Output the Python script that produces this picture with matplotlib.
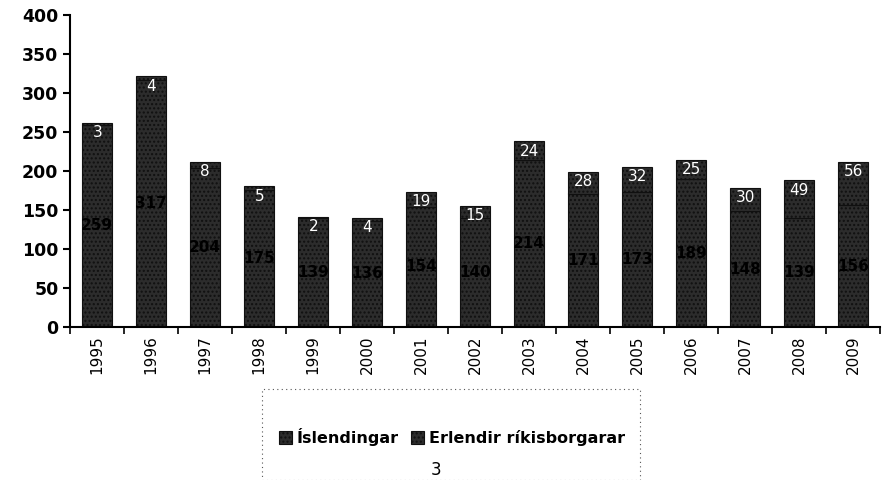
import matplotlib.pyplot as plt
import matplotlib.patches as mpatches
import numpy as np

years = ['1995', '1996', '1997', '1998', '1999', '2000', '2001', '2002',
         '2003', '2004', '2005', '2006', '2007', '2008', '2009']
erlendir = [3, 4, 8, 5, 2, 4, 19, 15, 24, 28, 32, 25, 30, 49, 56]
islendingar = [259, 317, 204, 175, 139, 136, 154, 140, 214, 171, 173, 189, 148, 139, 156]

x = np.arange(len(years))
isl = np.array(islendingar)
erl = np.array(erlendir)

fig = plt.figure(figsize=(8.89, 4.8), dpi=100)
ax = fig.add_axes([0.079, 0.319, 0.911, 0.65])

w = 0.55
b1 = ax.bar(x, isl, w, color='#2c2c2c', hatch='....', edgecolor='#101010', linewidth=0.8,
            label='Íslendingar')
b2 = ax.bar(x, erl, w, bottom=isl, color='#2c2c2c', hatch='....', edgecolor='#101010',
            linewidth=0.8, label='Erlendir ríkisborgarar')

for xi, v in zip(x, isl):
    ax.text(xi, v / 2, str(v), ha='center', va='center', fontsize=11,
            fontweight='bold', color='black')
for xi, v, b in zip(x, erl, isl):
    ax.text(xi, b + v - 3, str(v), ha='center', va='top', fontsize=11, color='white')

ax.set_ylim(0, 400)
ax.set_xlim(-0.5, len(years) - 0.5)
ax.set_yticks(range(0, 401, 50))
ax.tick_params(axis='y', labelsize=12.5, direction='out', length=5, width=1.5)
for lab in ax.get_yticklabels():
    lab.set_fontweight('bold')
ax.set_xticks(x)
ax.set_xticklabels(years, rotation=90, fontsize=11)
ax.tick_params(axis='x', length=0, pad=6)
ax.set_xticks(np.arange(-0.5, len(years), 1), minor=True)
ax.tick_params(axis='x', which='minor', direction='out', length=5, width=1.2)

for s in ['top', 'right']:
    ax.spines[s].set_visible(False)
ax.spines['left'].set_linewidth(1.5)
ax.spines['bottom'].set_linewidth(1.5)

# dotted frame around the legend area
box = mpatches.Rectangle((262 / 889, 0.0), (640 - 262) / 889, 1 - 389 / 480,
                         transform=fig.transFigure, fill=False, linestyle=(0, (1, 3)),
                         edgecolor='#555555', linewidth=0.8)
fig.patches.append(box)

fig.legend(handles=[b1, b2], loc='center', bbox_to_anchor=(452 / 889, 1 - 437 / 480),
           ncol=2, frameon=False, handlelength=0.8, handleheight=0.8, handletextpad=0.3,
           columnspacing=0.8, prop={'weight': 'bold', 'size': 11.5})

fig.text(436 / 889, 1 - 470 / 480, '3', ha='center', va='center', fontsize=12)

fig.savefig('out.png', dpi=100)
